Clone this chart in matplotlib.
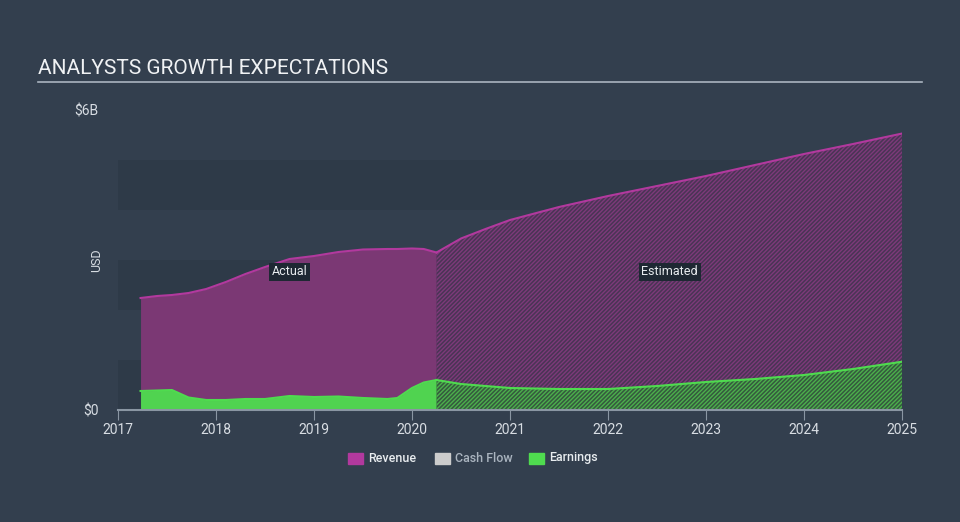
import numpy as np
import matplotlib.pyplot as plt

# actual values (decimal year, USD billions)
act_years = [2017.23, 2017.4, 2017.55, 2017.72, 2017.9, 2018.1, 2018.3, 2018.5, 2018.75, 2019.0,
             2019.25, 2019.5, 2019.75, 2019.85, 2020.0, 2020.12, 2020.25]
act_revenue = [2.24, 2.28, 2.30, 2.34, 2.42, 2.56, 2.72, 2.86, 3.02, 3.08,
               3.16, 3.21, 3.22, 3.22, 3.23, 3.22, 3.15]
act_earnings = [0.38, 0.39, 0.40, 0.25, 0.20, 0.20, 0.22, 0.22, 0.28, 0.26,
                0.27, 0.24, 0.22, 0.24, 0.44, 0.55, 0.60]

# analyst estimates
est_years = [2020.25, 2020.5, 2020.75, 2021.0, 2021.5, 2022.0, 2022.5, 2023.0,
             2023.5, 2024.0, 2024.5, 2025.05]
est_revenue = [3.15, 3.43, 3.62, 3.80, 4.06, 4.28, 4.48, 4.68, 4.90, 5.12, 5.32, 5.55]
est_earnings = [0.60, 0.52, 0.48, 0.44, 0.42, 0.42, 0.48, 0.56, 0.62, 0.70, 0.82, 0.98]

years = list(range(2017, 2026))
legend_names = ['Revenue', 'Cash Flow', 'Earnings']

bg = '#333f4e'
band = '#2e3a48'
rev_c = '#b2399e'
earn_c = '#4fdb4f'

fig = plt.figure(figsize=(9.6, 5.22), dpi=100)
fig.patch.set_facecolor(bg)
ax = fig.add_axes([118/960, 112/522, 784/960, 300/522])
ax.set_facecolor(bg)

for lo in [0, 2, 4]:
    ax.axhspan(lo, lo + 1, color=band, zorder=0, lw=0)

# actual
ax.fill_between(act_years, act_revenue, color='#7b3874', lw=0, zorder=1)
ax.plot(act_years, act_revenue, color=rev_c, lw=1.5, zorder=3)
ax.fill_between(act_years, act_earnings, color='#50d350', lw=0, zorder=2)
ax.plot(act_years, act_earnings, color=earn_c, lw=1.5, zorder=3)

# estimated (hatched)
plt.rcParams['hatch.linewidth'] = 1.0
ax.fill_between(est_years, est_revenue, facecolor='#4a3455', edgecolor='#7d3a7a',
                hatch='////////', lw=0, zorder=1)
ax.plot(est_years, est_revenue, color=rev_c, lw=1.5, zorder=3)
ax.fill_between(est_years, est_earnings, facecolor='#355a3e', edgecolor='#4caf4c',
                hatch='////////', lw=0, zorder=2)
ax.plot(est_years, est_earnings, color=earn_c, lw=1.5, zorder=3)

ax.set_xlim(2017, 2025)
ax.set_ylim(0, 6)
ax.set_xticks(years)
ax.set_xticklabels([str(y) for y in years], color='#d8dde3', fontsize=10, family='Roboto')
ax.set_yticks([0, 6])
ax.set_yticklabels(['$0', '$6B'], color='#d8dde3', fontsize=10, family='Roboto')
ax.tick_params(axis='x', length=7, color='#8a96a3', pad=2)
ax.tick_params(axis='y', length=0, pad=14)
for s in ['top', 'right', 'left']:
    ax.spines[s].set_visible(False)
ax.spines['bottom'].set_color('#8a96a3')
ax.spines['bottom'].set_linewidth(1.5)
ax.set_ylabel('USD', color='#d8dde3', fontsize=9, family='Roboto')
ax.yaxis.set_label_coords(-0.019, 0.5)

box = dict(boxstyle='square,pad=0.2', fc='#1e2833', ec='none')
ax.text(2018.75, 2.77, 'Actual', color='#e8ecef', fontsize=9, family='Roboto',
        ha='center', va='center', bbox=box)
ax.text(2022.63, 2.77, 'Estimated', color='#e8ecef', fontsize=9, family='Roboto',
        ha='center', va='center', bbox=box)

# title
fig.text(38/960, 1 - 68/522, 'ANALYSTS GROWTH EXPECTATIONS', color='#f0f2f4',
         fontsize=15, family='Roboto', va='center')
fig.add_artist(plt.Line2D([38/960, 922/960], [1 - 82/522, 1 - 82/522],
                          color='#aab4bf', lw=1.2))

# legend
leg_x = [348, 435, 529]
leg_c = [rev_c, '#cccccc', earn_c]
leg_tc = ['#e8ecef', '#aab4bf', '#e8ecef']
for x, c, tc, name in zip(leg_x, leg_c, leg_tc, legend_names):
    fig.patches.append(plt.Rectangle((x/960, 1 - 464/522), 15/960, 11/522,
                                     color=c, transform=fig.transFigure))
    fig.text((x + 20)/960, 1 - 458/522, name, color=tc, fontsize=9,
             family='Roboto', fontweight='medium', va='center')

fig.savefig('out.png', facecolor=bg)
